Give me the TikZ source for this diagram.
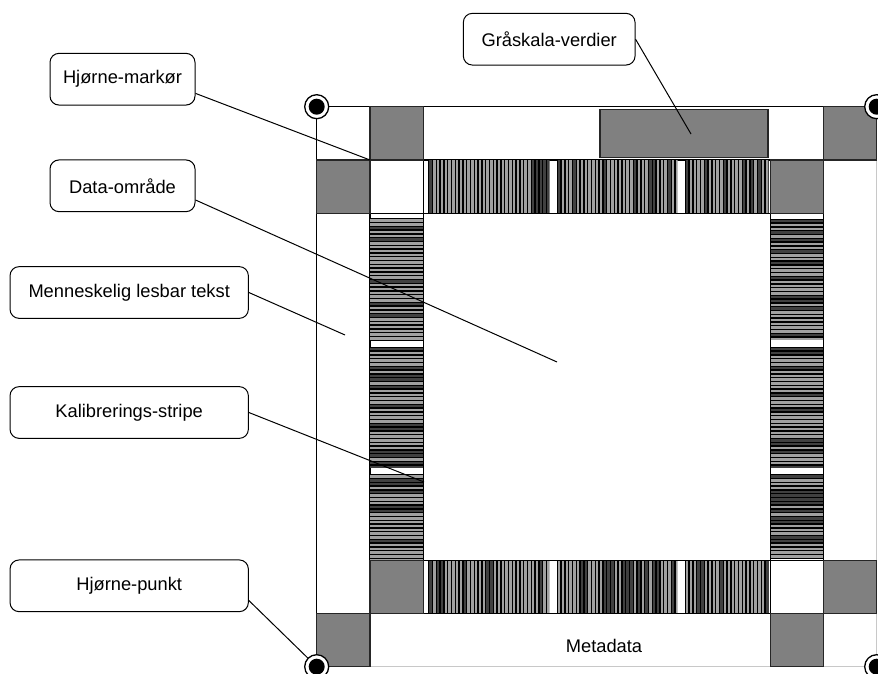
\documentclass[tikz,border=0pt]{standalone}
\usepackage{fontspec}
\setmainfont{Liberation Sans}
\usetikzlibrary{calc}
\definecolor{midgray}{HTML}{808080}
\definecolor{darkbar}{HTML}{404040}
\definecolor{lightbar}{HTML}{A0A0A0}
\definecolor{framegray}{HTML}{C8C8C8}
\newcommand{\pickbarcolor}[1]{%
  \ifnum#1<8 \def\bc{lightbar}\else\def\bc{darkbar}\fi}
% vertical bars in a horizontal band: x0 x1 y0 y1
\newcommand{\hbarcode}[4]{%
  \begin{scope}
  \clip (#1,#3) rectangle (#2,#4);
  \pgfmathtruncatemacro{\nb}{ceil((#2-#1)/3.8)}
  \foreach \k in {1,...,\nb}{
    \pgfmathsetmacro{\xa}{#1+(\k-1)*3.8}
    \pgfmathsetmacro{\xb}{\xa+3.8}
    \pgfmathsetmacro{\xc}{\xa+1.4}
    \pgfmathrandominteger{\rr}{1}{10}
    \pickbarcolor{\rr}
    \fill[\bc] (\xa,#3) rectangle (\xb,#4);
    \fill[black] (\xa,#3) rectangle (\xc,#4);
  }
  \end{scope}}
% horizontal bars in a vertical band: x0 x1 y0 y1
\newcommand{\vbarcode}[4]{%
  \begin{scope}
  \clip (#1,#3) rectangle (#2,#4);
  \pgfmathtruncatemacro{\nb}{ceil((#4-#3)/3.8)}
  \foreach \k in {1,...,\nb}{
    \pgfmathsetmacro{\ya}{#3+(\k-1)*3.8}
    \pgfmathsetmacro{\yb}{\ya+3.8}
    \pgfmathsetmacro{\yc}{\ya+1.4}
    \pgfmathrandominteger{\rr}{1}{10}
    \pickbarcolor{\rr}
    \fill[\bc] (#1,\ya) rectangle (#2,\yb);
    \fill[black] (#1,\ya) rectangle (#2,\yc);
  }
  \end{scope}}
\begin{document}
\begin{tikzpicture}[x=1pt,y=-1pt,
  label box/.style={draw=black, line width=1pt, rounded corners=9pt, fill=white,
     minimum height=51.7pt, inner sep=0pt, font=\fontsize{18.3}{22}\selectfont},
  graysq/.style={fill=midgray, draw=black!85, line width=1.2pt},
  band/.style={draw=black, line width=1.1pt},
  leader/.style={draw=black, line width=1pt},
  cornerdot/.style={circle, draw=black, fill=white, line width=1.3pt, minimum size=24pt, inner sep=0pt}]
\pgfmathsetseed{4217}
\useasboundingbox (0,0) rectangle (878,674);
\fill[white] (0,0) rectangle (878,674);
\begin{scope}
\clip (0,0) rectangle (878,674);
% outer frame
\draw[black, line width=1.2pt] (316.7,666.7) -- (316.7,106.7) -- (876.7,106.7);
\draw[framegray, line width=1.2pt] (316.7,666.7) -- (876.7,666.7) -- (876.7,106.7);
% bands and data area
\draw[band] (370,160) rectangle (770.7,213.3);
\draw[band] (370,160) rectangle (423.3,560.7);
\draw[band] (770.7,160) rectangle (823.3,613.3);
\draw[band] (370,560.7) rectangle (823.3,613.3);
\draw[band] (423.3,213.3) rectangle (770.7,560.7);
% calibration stripes
\hbarcode{428}{549.5}{160}{213.3}
\hbarcode{556.5}{677.5}{160}{213.3}
\hbarcode{684.5}{768.5}{160}{213.3}
\hbarcode{428}{549.5}{560.7}{613.3}
\hbarcode{556.5}{677.5}{560.7}{613.3}
\hbarcode{684.5}{768.5}{560.7}{613.3}
\vbarcode{370}{423.3}{218}{340}
\vbarcode{370}{423.3}{346.5}{468}
\vbarcode{370}{423.3}{474}{560.7}
\vbarcode{770.7}{823.3}{218.5}{340}
\vbarcode{770.7}{823.3}{346.5}{468}
\vbarcode{770.7}{823.3}{474}{558}
% corner markers
\draw[graysq] (370,106.7) rectangle (423.3,160);
\draw[graysq] (823.3,106.7) rectangle (876.7,160);
\draw[graysq] (316.7,160) rectangle (370,213.3);
\draw[graysq] (770.7,160) rectangle (823.3,213.3);
\draw[graysq] (370,560.7) rectangle (423.3,613.3);
\draw[graysq] (823.3,560.7) rectangle (876.7,613.3);
\draw[graysq] (316.7,613.3) rectangle (370,666.7);
\draw[graysq] (770.7,613.3) rectangle (823.3,666.7);
% grayscale values block
\draw[fill=midgray, draw=black!85, line width=1.5pt] (600,109.5) rectangle (768,157.5);
% metadata
\node[font=\fontsize{18.3}{22}\selectfont] (meta) at (604,646) {Metadata};
% corner points
\node[cornerdot] (ctl) at (316.7,106.7) {};
\node[cornerdot] (ctr) at (876.7,106.7) {};
\node[cornerdot] (cbl) at (316.7,666.7) {};
\node[cornerdot] (cbr) at (876.7,666.7) {};
\foreach \c in {ctl,ctr,cbl,cbr}{\fill[black] (\c.center) circle (8pt);}
\end{scope}
% labels
\node[label box, minimum width=171.7pt] (lgray) at (549.2,39.2) {Gråskala-verdier};
\node[label box, minimum width=145pt] (lmark) at (122.5,79.2) {Hjørne-markør};
\node[label box, minimum width=145pt] (ldata) at (122.5,185.8) {Data-område};
\node[label box, minimum width=238.3pt] (ltext) at (129.2,292.5) {Menneskelig lesbar tekst};
\node[label box, minimum width=238.3pt] (lcal) at (129.2,412.5) {Kalibrerings-stripe};
\node[label box, minimum width=238.3pt] (lpoint) at (129.2,585.8) {Hjørne-punkt};
% leader end points
\coordinate (egray) at (691,134);
\coordinate (emark) at (370,160);
\coordinate (edata) at (557,362);
\coordinate (etext) at (345,335);
\coordinate (ecal) at (424,482);
% leaders
\draw[leader] (lgray.east) -- (egray);
\draw[leader] (lmark.-11) -- (emark);
\draw[leader] (ldata.-11) -- (edata);
\draw[leader] (ltext.east) -- (etext);
\draw[leader] (lcal.east) -- (ecal);
\draw[leader] (lpoint.-7) -- (cbl);
\end{tikzpicture}
\end{document}
